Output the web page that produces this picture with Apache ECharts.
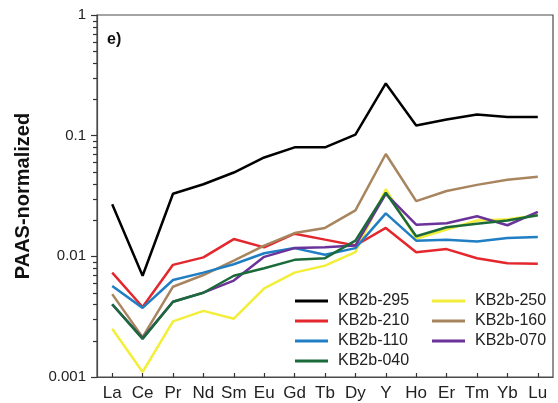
<!DOCTYPE html>
<html>
<head>
<meta charset="utf-8">
<script src="https://cdn.jsdelivr.net/npm/echarts@6/dist/echarts.min.js"></script>
<style>
  html, body { margin: 0; padding: 0; background: #fff; }
  #chart { width: 558px; height: 403px; }
</style>
</head>
<body>
<div id="chart"></div>
<script>
// Rare earth elements + Y along the x axis
const elements = ['La', 'Ce', 'Pr', 'Nd', 'Sm', 'Eu', 'Gd', 'Tb', 'Dy', 'Y', 'Ho', 'Er', 'Tm', 'Yb', 'Lu'];

// PAAS-normalized concentrations per sample
const kb295 = [0.027, 0.0069, 0.033, 0.0396, 0.0495, 0.066, 0.080, 0.080, 0.102, 0.271, 0.1216, 0.136, 0.150, 0.1427, 0.1427];
const kb250 = [0.00251, 0.0011, 0.00289, 0.00353, 0.00304, 0.00542, 0.00733, 0.00838, 0.01083, 0.036, 0.0140, 0.0167, 0.0198, 0.0203, 0.0219];
const kb210 = [0.00733, 0.0038, 0.0085, 0.0098, 0.0139, 0.01186, 0.0154, 0.01375, 0.0123, 0.0172, 0.01083, 0.01148, 0.00965, 0.00877, 0.00867];
const kb160 = [0.00486, 0.00214, 0.0056, 0.0070, 0.0092, 0.01225, 0.0156, 0.0172, 0.024, 0.0705, 0.0287, 0.0348, 0.0391, 0.0431, 0.0456];
const kb110 = [0.00567, 0.00374, 0.00637, 0.00733, 0.0086, 0.0106, 0.0117, 0.0103, 0.0117, 0.0227, 0.01349, 0.01375, 0.0133, 0.0142, 0.01445];
const kb070 = [0.0040, 0.0021, 0.0042, 0.0050, 0.0063, 0.0099, 0.0117, 0.0119, 0.0123, 0.033, 0.0183, 0.0188, 0.0215, 0.0181, 0.0234];
const kb040 = [0.00401, 0.00207, 0.0042, 0.00499, 0.00690, 0.00796, 0.00935, 0.00965, 0.0135, 0.0337, 0.01465, 0.0174, 0.0186, 0.0198, 0.0219];

// minor tick values on the log axis (2..9 within each decade)
const yMinorTicks = [0.002, 0.003, 0.004, 0.005, 0.006, 0.007, 0.008, 0.009,
                     0.02, 0.03, 0.04, 0.05, 0.06, 0.07, 0.08, 0.09,
                     0.2, 0.3, 0.4, 0.5, 0.6, 0.7, 0.8, 0.9];

const samples = [
  { name: 'KB2b-295', data: kb295, color: '#000000' },
  { name: 'KB2b-250', data: kb250, color: '#f2ee3a' },
  { name: 'KB2b-210', data: kb210, color: '#e3272d' },
  { name: 'KB2b-160', data: kb160, color: '#a8855e' },
  { name: 'KB2b-110', data: kb110, color: '#1f7ec4' },
  { name: 'KB2b-070', data: kb070, color: '#6b3399' },
  { name: 'KB2b-040', data: kb040, color: '#1b6b3a' }
];

const font = 'Liberation Sans, Arial, sans-serif';
const axisColor = '#4a4a4a';
const tickColor = '#333';

const legendBase = {
  orient: 'vertical',
  icon: 'rect',
  itemWidth: 33,
  itemHeight: 3,
  itemGap: 4,
  textStyle: { fontFamily: font, fontSize: 16, color: '#222', lineHeight: 16, padding: [0, 0, 0, 5] }
};

const lineSeries = samples.map(s => ({
  name: s.name,
  type: 'line',
  data: s.data,
  showSymbol: false,
  symbol: 'none',
  color: s.color,
  lineStyle: { color: s.color, width: 2.5 }
}));

// short outward ticks on the left axis at the minor log positions
const minorTickSeries = {
  type: 'custom',
  silent: true,
  clip: false,
  z: 5,
  data: yMinorTicks.map(v => [0, v]),
  encode: { x: 0, y: 1 },
  renderItem: (params, api) => {
    const y = Math.round(api.coord([0, api.value(1)])[1]) + 0.5;
    const x0 = params.coordSys.x;
    return {
      type: 'line',
      shape: { x1: x0 - 4, y1: y, x2: x0, y2: y },
      style: { stroke: tickColor, lineWidth: 1.2 }
    };
  }
};

const chart = echarts.init(document.getElementById('chart'), null, { renderer: 'canvas' });
chart.setOption({
  animation: false,
  backgroundColor: '#fff',
  grid: {
    left: 97, right: 5, top: 15, bottom: 26,
    show: true, borderColor: axisColor, borderWidth: 1.2
  },
  graphic: [{
    type: 'text', left: 107, top: 32,
    style: { text: 'e)', fontFamily: font, fontSize: 16, fontWeight: 'bold', fill: '#111' }
  }],
  legend: [
    Object.assign({ left: 290, top: 288, data: ['KB2b-295', 'KB2b-210', 'KB2b-110', 'KB2b-040'] }, legendBase),
    Object.assign({ left: 427, top: 288, data: ['KB2b-250', 'KB2b-160', 'KB2b-070'] }, legendBase)
  ],
  xAxis: {
    type: 'category',
    data: elements,
    boundaryGap: true,
    axisLine: { lineStyle: { color: axisColor, width: 1.2 } },
    axisTick: { show: true, alignWithLabel: true, inside: true, length: 4, lineStyle: { color: tickColor, width: 1.2 } },
    axisLabel: { fontFamily: font, fontSize: 17, color: '#222', margin: 8, interval: 0 },
    splitLine: { show: false }
  },
  yAxis: {
    type: 'log', logBase: 10, min: 0.001, max: 1,
    name: 'PAAS-normalized',
    nameLocation: 'middle', nameGap: 64, nameRotate: 90,
    nameTextStyle: { fontFamily: font, fontSize: 20, fontWeight: 'bold', color: '#111' },
    axisLine: { show: true, lineStyle: { color: axisColor, width: 1.2 } },
    axisTick: { show: true, length: 6, lineStyle: { color: tickColor, width: 1.2 } },
    axisLabel: {
      fontFamily: font, fontSize: 15, color: '#222', margin: 11,
      formatter: v => String(+v.toPrecision(3))
    },
    splitLine: { show: false },
    minorTick: { show: false }
  },
  series: lineSeries.concat([minorTickSeries])
});
</script>
</body>
</html>
